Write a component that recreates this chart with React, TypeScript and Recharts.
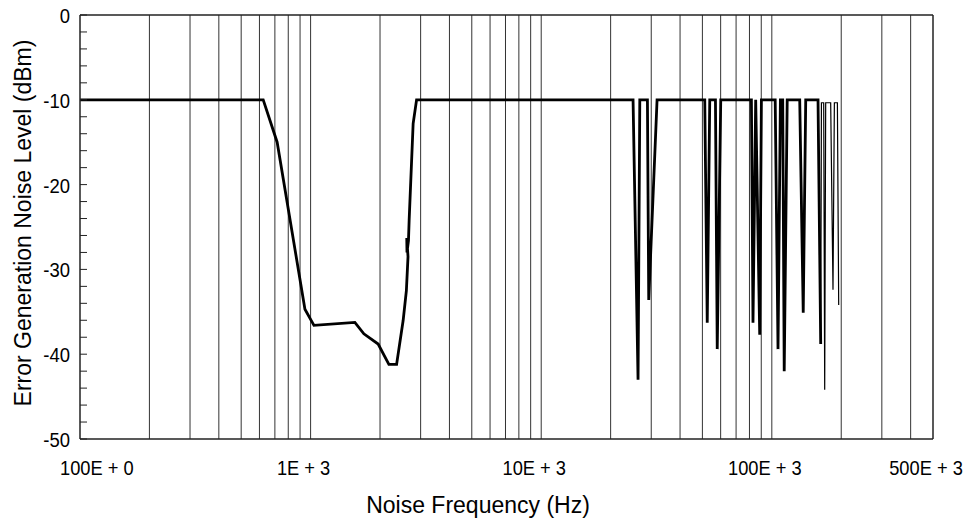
import { Line, LineChart, ReferenceLine, XAxis, YAxis } from "recharts";

// main trace (thick), Hz / dBm
const mainFreq = [
  100, 623, 716, 945, 1034, 1556, 1702, 1963, 2185, 2360, 2520, 2602, 2645, 2612, 2618,
  2657, 2675, 2784, 2881, 25020, 26300, 26760, 28880, 29260, 31800, 51190, 52480, 53810,
  56960, 57990, 60050, 81560, 82870, 85130, 88620, 90130, 103440, 106390, 108960, 111500,
  113180, 116620, 132130, 136840, 140300, 158630, 162930,
];
const mainLevel = [
  -10, -10, -15, -34.7, -36.6, -36.25, -37.6, -38.8, -41.2, -41.2, -36.0, -32.5, -28.5,
  -26.3, -28.0, -26.6, -24.2, -12.8, -10, -10, -43.0, -10, -10, -33.6, -10, -10, -36.3,
  -10, -10, -39.4, -10, -10, -36.3, -10, -37.7, -10, -10, -39.4, -10, -10, -42.0, -10,
  -10, -35.1, -10, -10, -38.8,
];

// thin tail of the sweep
const tailFreq = [162930, 164100, 167880, 169550, 171240, 180000, 184200, 186760, 192470, 194980];
const tailLevel = [-38.8, -10.35, -10.35, -44.2, -10.35, -10.35, -32.4, -10.35, -10.35, -34.2];

const xTicks = [100, 1000, 10000, 100000, 500000];
const xTickLabels = ["100E + 0", "1E + 3", "10E + 3", "100E + 3", "500E + 3"];
const yTicks = [0, -2, -4, -6, -8, -10, -12, -14, -16, -18, -20, -22, -24, -26, -28, -30, -32, -34, -36, -38, -40, -42, -44, -46, -48, -50];
const gridFreqs = [
  200, 300, 400, 500, 600, 700, 800, 900, 1000,
  2000, 3000, 4000, 5000, 6000, 7000, 8000, 9000, 10000,
  20000, 30000, 40000, 50000, 60000, 70000, 80000, 90000, 100000,
  200000, 300000, 400000,
];

const mainData = mainFreq.map((f, i) => ({ f, v: mainLevel[i] }));
const tailData = tailFreq.map((f, i) => ({ f, v: tailLevel[i] }));

const FONT = "'Liberation Sans', Arial, Helvetica, sans-serif";

// tick labels in the original are a condensed face, squeeze regular sans horizontally
function XTick(props: any) {
  const { x, y, payload, index } = props;
  const label = xTickLabels[xTicks.indexOf(payload.value)] ?? "";
  const first = index === 0;
  const tx = first ? x - 20 : x - 7;
  return (
    <text
      transform={`translate(${tx}, ${y + 36}) scale(0.87, 1)`}
      textAnchor={first ? "start" : "middle"}
      fontFamily={FONT}
      fontSize={21}
      fill="#000"
    >
      {label}
    </text>
  );
}

function YTick(props: any) {
  const { x, y, payload } = props;
  const major = payload.value % 10 === 0;
  return (
    <g>
      <line x1={x} x2={x + 7} y1={y} y2={y} stroke="#222" strokeWidth={1} />
      {major && (
        <text
          transform={`translate(${x - 10}, ${y + 8}) scale(0.88, 1)`}
          textAnchor="end"
          fontFamily={FONT}
          fontSize={21}
          fill="#000"
        >
          {payload.value}
        </text>
      )}
    </g>
  );
}

export default function App() {
  return (
    <div style={{ position: "absolute", left: 0, top: 0, width: 969, height: 525, background: "#fff" }}>
      <LineChart width={969} height={525} margin={{ top: 15, right: 36, bottom: 0, left: 0 }}>
        <XAxis
          dataKey="f"
          type="number"
          scale="log"
          domain={[100, 500000]}
          ticks={xTicks}
          interval={0}
          allowDataOverflow
          height={86}
          tickSize={0}
          tickMargin={0}
          tickLine={false}
          axisLine={{ stroke: "#222", strokeWidth: 1.5 }}
          tick={(p: any) => <XTick {...p} />}
        />
        <YAxis
          type="number"
          domain={[-50, 0]}
          ticks={yTicks}
          interval={0}
          width={80}
          tickSize={0}
          tickMargin={0}
          tickLine={false}
          axisLine={{ stroke: "#222", strokeWidth: 1.5 }}
          tick={(p: any) => <YTick {...p} />}
        />
        {gridFreqs.map((g) => (
          <ReferenceLine key={g} x={g} stroke="#333" strokeWidth={1} />
        ))}
        <ReferenceLine y={0} stroke="#222" strokeWidth={1.5} />
        <ReferenceLine x={500000} stroke="#222" strokeWidth={1.5} />
        <Line
          data={mainData}
          dataKey="v"
          type="linear"
          stroke="#000"
          strokeWidth={2.8}
          dot={false}
          isAnimationActive={false}
        />
        <Line
          data={tailData}
          dataKey="v"
          type="linear"
          stroke="#000"
          strokeWidth={1.2}
          dot={false}
          isAnimationActive={false}
        />
        <text x={478} y={513} textAnchor="middle" fontFamily={FONT} fontSize={23} fill="#000">
          Noise Frequency (Hz)
        </text>
        <text
          x={31}
          y={223}
          transform="rotate(-90, 31, 223)"
          textAnchor="middle"
          fontFamily={FONT}
          fontSize={23}
          fill="#000"
        >
          Error Generation Noise Level (dBm)
        </text>
      </LineChart>
    </div>
  );
}
